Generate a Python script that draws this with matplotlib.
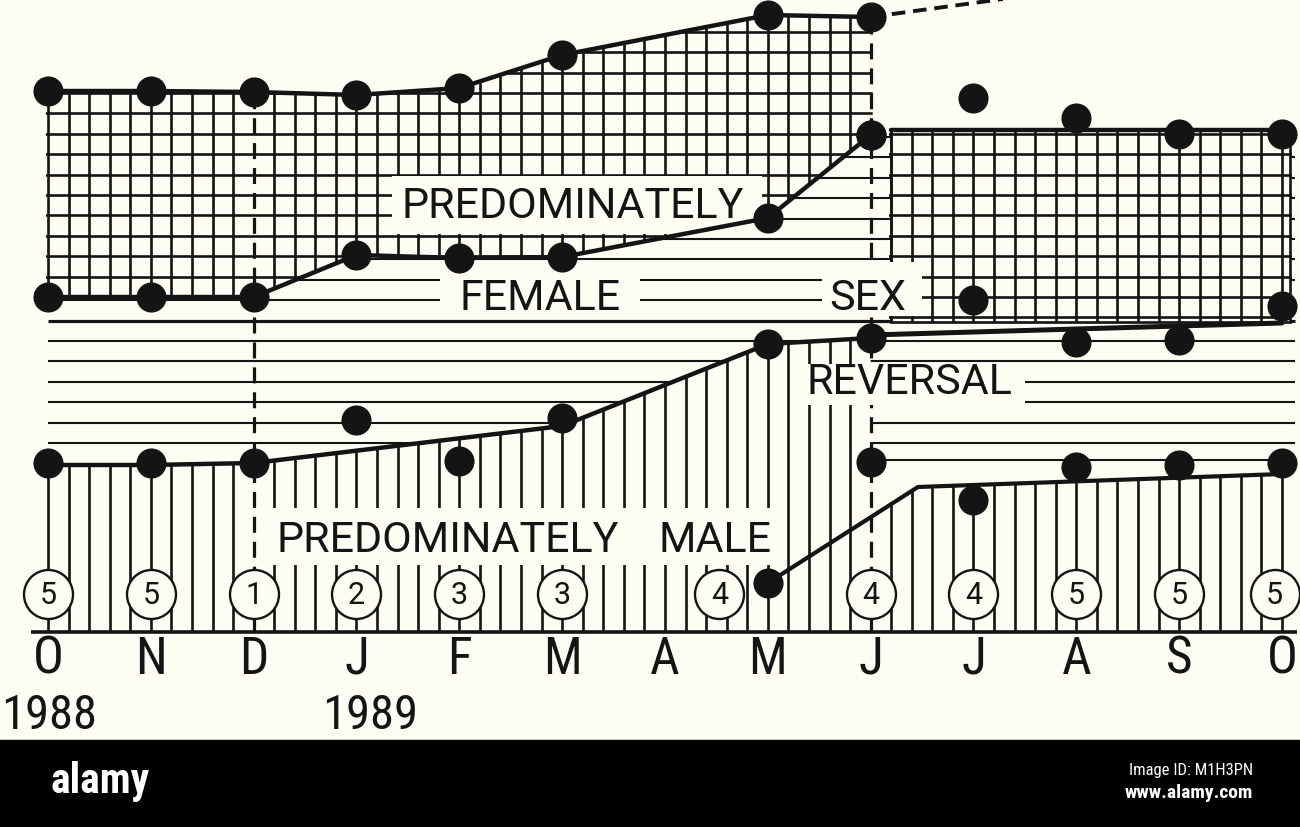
import numpy as np
import matplotlib
matplotlib.use("Agg")
import matplotlib.pyplot as plt
from matplotlib.patches import Polygon, Rectangle
from matplotlib.collections import LineCollection

# ---------------- data (x = month index, y = height above baseline) ----------------
months = ['O', 'N', 'D', 'J', 'F', 'M', 'A', 'M', 'J', 'J', 'A', 'S', 'O']
year_labels = ['1988', '1989']
year_pos = [0, 3]

# left block: Oct 1988 .. Jun 1989 (NaN = no value)
left_x = [0, 1, 2, 3, 4, 5, 6, 7, 8]
fem_top = [541, 541, 540, 537, 544, 577, np.nan, 617, 615]
fem_bot = [335, 335, 335, 377, 374, 375, np.nan, 414, 497]
male_top_dots = [169, 169, 169, 212, 171, 214, np.nan, 288, 294]
male_line = [167, 167, 169, np.nan, np.nan, 206, np.nan, 288, 294]

# right block: Jun .. Oct 1989
right_x = [8, 9, 10, 11, 12]
fem_r_top_dots = [497, 534, 514, 498, 498]
fem_r_bot_dots = [np.nan, 332, 290, 292, 326]
male_r_dots = [170, 132, 165, 167, 169]
fem_r_band_top = [502, 502, 502, 502, 502]
fem_r_band_bot = [310, 310, 310, 310, 310]
fem_r_edge = [297, 300, 303, 306, 309]

male_low_x = [7, 8.46, 12]
male_low = [49, 145, 158]

extrap_x = [8, 9.5]
extrap = [615, 636]

n_x = [0, 1, 2, 3, 4, 5, 6.53, 8, 9, 10, 11, 11.93]
n_vals = [5, 5, 1, 2, 3, 3, 4, 4, 4, 5, 5, 5]

# ---------------- style ----------------
BG = '#fdfdf3'
INK = '#141414'
NARROW = ['Roboto Condensed', 'Liberation Sans Narrow', 'DejaVu Sans Condensed', 'Roboto']
LABEL = ['Roboto', 'DejaVu Sans']
HATCH_LW = 1.9
EDGE_LW = 3.2

fig = plt.figure(figsize=(13.0, 8.27), dpi=100, facecolor=BG)
ax = fig.add_axes([0, 0, 1, 1])
ax.set_facecolor(BG)
ax.set_xlim(-48 / 102.83, (1300 - 48) / 102.83)
ax.set_ylim(-195, 632)
ax.axis('off')


def band_verts(xs, top, bot, pad=0.0):
    xs = np.asarray(xs, float)
    top = np.asarray(top, float)
    bot = np.asarray(bot, float)
    mt, mb = np.isfinite(top), np.isfinite(bot)
    xt, yt = xs[mt], top[mt]
    xb, yb = xs[mb], bot[mb]
    if pad:
        xt = np.r_[xt[0] - pad, xt, xt[-1] + pad]
        yt = np.r_[yt[0], yt, yt[-1]]
        xb = np.r_[xb[0] - pad, xb, xb[-1] + pad]
        yb = np.r_[yb[0], yb, yb[-1]]
    return np.r_[np.column_stack([xt, yt]), np.column_stack([xb, yb])[::-1]]


def add_band(xs, top, bot, vx, hy, outline=False):
    verts = band_verts(xs, top, bot)
    poly = Polygon(verts, closed=True, facecolor=BG,
                   edgecolor=INK if outline else 'none',
                   linewidth=HATCH_LW if outline else 0, zorder=2)
    ax.add_patch(poly)
    clip = Polygon(band_verts(xs, top, bot, pad=0.02), closed=True,
                   transform=ax.transData, facecolor='none', edgecolor='none')
    segs = [[(x, -20), (x, 700)] for x in vx] + [[(-1, y), (13, y)] for y in hy]
    lc = LineCollection(segs, colors=INK, linewidths=HATCH_LW, zorder=3)
    ax.add_collection(lc)
    lc.set_clip_path(clip)


# ---- horizontal "sex reversal" lines (background) ----
rev_h = 189 + 20.4 * np.arange(16)
for j, h in enumerate(rev_h):
    ax.plot([0, 12.13], [h, h], color=INK, lw=2.3 if j == 6 else 1.5,
            zorder=1, solid_capstyle='butt')
ax.plot([8, 12.13], [172, 172], color=INK, lw=1.5, zorder=1)

# ---- hatch positions ----
vgrid = [k / 5 for k in range(0, 61) if k not in (10, 40)]
hgrid = 335 + 20.4 * np.arange(-2, 15)

# female bands (grid)
add_band(left_x, fem_top, fem_bot, [v for v in vgrid if v <= 8], hgrid)
xr = np.array(right_x, float)
xr[0] += 0.2
xr[-1] += 0.08
add_band(xr, fem_r_band_top, fem_r_band_bot, [v for v in vgrid if v > 8], hgrid, outline=True)

# male bands (vertical lines)
add_band(left_x, male_line, np.zeros(len(left_x)), [v for v in vgrid if v < 8], [])
mr_x = np.r_[8.0, [x for x in male_low_x if x > 8]]
mr_top = np.interp(mr_x, male_low_x, male_low)
add_band(mr_x, mr_top, np.zeros(len(mr_x)), [v for v in vgrid if v > 8], [])

# ---- boundary lines ----
def pl(xs, ys, lw=EDGE_LW, **kw):
    xs = np.asarray(xs, float)
    ys = np.asarray(ys, float)
    m = np.isfinite(ys)
    ax.plot(xs[m], ys[m], color=INK, lw=lw, zorder=6,
            solid_capstyle='round', **kw)

pl(left_x, fem_top)
pl(left_x, fem_bot)
pl(left_x, male_line)
pl(xr, fem_r_band_top)
pl(right_x, fem_r_edge, lw=3.6)
pl(male_low_x, male_low, lw=3.0)
ax.plot(extrap_x, extrap, color=INK, lw=2.8, zorder=6,
        linestyle=(0, (3.5, 2.0)), clip_on=True)

# dashed verticals at D and J(une)
ax.plot([2, 2], [0, fem_top[2]], color=INK, lw=2.3, zorder=4, linestyle=(0, (5, 2.8)))
ax.plot([8, 8], [0, fem_top[8]], color=INK, lw=2.3, zorder=4, linestyle=(0, (5, 2.8)))

# baseline
ax.plot([-0.17, 12.15], [0, 0], color=INK, lw=2.6, zorder=6, solid_capstyle='butt')

# ---- label boxes ----
boxes = [(3.345, 398, 6.943, 456), (3.81, 318, 5.757, 364), (7.527, 316, 8.50, 370),
         (7.264, 227, 9.501, 268), (2.178, 67, 7.07, 124)]
for (bx0, by0, bx1, by1) in boxes:
    ax.add_patch(Rectangle((bx0, by0), bx1 - bx0, by1 - by0, facecolor=BG,
                           edgecolor='none', zorder=5))

lab_kw = dict(ha='center', va='center', fontsize=31, color=INK, family=LABEL, zorder=5.5)
ax.text(5.106, 426, 'PREDOMINATELY', **lab_kw)
ax.text(4.785, 333, 'FEMALE', **lab_kw)
ax.text(7.974, 333, 'SEX', **lab_kw)
ax.text(8.373, 250, 'REVERSAL', **lab_kw)
ax.text(3.89, 92, 'PREDOMINATELY', **lab_kw)
ax.text(6.486, 92, 'MALE', **lab_kw)

# ---- dots ----
DOT = dict(s=470, color=INK, zorder=7, linewidths=0)
ax.scatter(left_x, fem_top, **DOT)
ax.scatter(left_x, fem_bot, **DOT)
ax.scatter(left_x, male_top_dots, **DOT)
ax.scatter(right_x, fem_r_top_dots, **DOT)
ax.scatter(right_x, fem_r_bot_dots, **DOT)
ax.scatter(right_x, male_r_dots, **DOT)
ax.scatter(male_low_x[:1], male_low[:1], **DOT)

# ---- circled sample sizes ----
ax.scatter(n_x, [38] * len(n_x), s=1245, facecolor=BG, edgecolor=INK,
           linewidths=1.7, zorder=8)
for x, v in zip(n_x, n_vals):
    ax.text(x, 37, str(v), ha='center', va='center', fontsize=22,
            family=LABEL, color=INK, zorder=9)

# ---- month / year labels ----
for i, m in enumerate(months):
    ax.text(i, -28, m, ha='center', va='center', fontsize=37, family=NARROW, color=INK)
year_shift = [-0.455, -0.335]
for p, s, y in zip(year_pos, year_shift, year_labels):
    ax.text(p + s, -84, y, ha='left', va='center', fontsize=35, family=NARROW, color=INK)

# ---- image strip ----
ax.axhspan(-195, -108, color='black', zorder=10)
ax.text(0.506, -150, 'alamy', ha='center', va='center', fontsize=30, color='white',
        fontweight='bold', family=NARROW, zorder=11)
ax.text(11.718, -138, 'Image ID: M1H3PN', ha='right', va='center', fontsize=12,
        color='white', family=NARROW, zorder=11)
ax.text(11.718, -161, 'www.alamy.com', ha='right', va='center', fontsize=14,
        color='white', fontweight='bold', family=NARROW, zorder=11)

fig.savefig('out.png', dpi=100, facecolor=BG)
